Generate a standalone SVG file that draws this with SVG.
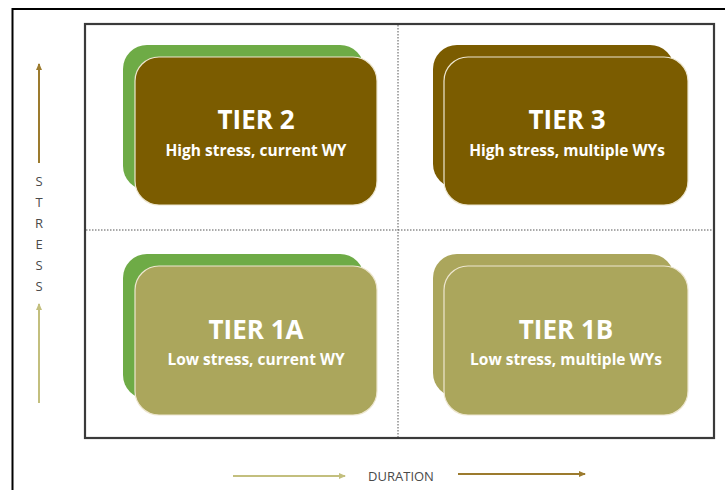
<svg xmlns="http://www.w3.org/2000/svg" width="725" height="490" viewBox="0 0 725 490">
<defs>
<style>
.title{font-family:"Open Sans","Liberation Sans",sans-serif;font-weight:700;font-size:26px;fill:#ffffff;text-anchor:middle}
.sub{font-family:"Open Sans","Liberation Sans",sans-serif;font-weight:700;font-size:15.5px;fill:#ffffff;text-anchor:middle}
.axis{font-family:"Open Sans","Liberation Sans",sans-serif;font-size:13px;fill:#4a4a4a;text-anchor:middle}
.dark{fill:#7B5C00}
.light{fill:#ABA65C}
.green{fill:#6EAB46}
.front{stroke:#EDE6CF;stroke-width:1.2}
.div{stroke:#555555;stroke-width:1;stroke-dasharray:1.5 1.5;fill:none}
</style>
<marker id="ahD" markerWidth="8" markerHeight="8" refX="6" refY="4" orient="auto" markerUnits="userSpaceOnUse"><path d="M0,1 L7,4 L0,7 Z" fill="#9C7B2E"/></marker>
<marker id="ahL" markerWidth="8" markerHeight="8" refX="6" refY="4" orient="auto" markerUnits="userSpaceOnUse"><path d="M0,1 L7,4 L0,7 Z" fill="#C3BF7E"/></marker>
</defs>
<rect width="725" height="490" fill="#ffffff"/>
<path d="M12.5,495 V9 H730" fill="none" stroke="#000000" stroke-width="2"/>
<rect x="85" y="24" width="629" height="414" fill="none" stroke="#3a3a3a" stroke-width="2.2"/>
<g id="dividers">
<line class="div" x1="398" y1="25" x2="398" y2="437"/>
<line class="div" x1="86" y1="230" x2="713" y2="230"/>
</g>
<g id="tier2">
<rect class="green" x="123" y="45" width="241" height="145" rx="24"/>
<rect class="dark front" x="135" y="57" width="242" height="148" rx="24"/>
<text class="title" x="256" y="129">TIER 2</text>
<text class="sub" x="256" y="156">High stress, current WY</text>
</g>
<g id="tier3">
<rect class="dark" x="433" y="45" width="241" height="143" rx="24"/>
<rect class="dark front" x="444" y="57" width="244" height="148" rx="24"/>
<text class="title" x="567" y="129">TIER 3</text>
<text class="sub" x="567" y="156">High stress, multiple WYs</text>
</g>
<g id="tier1a">
<rect class="green" x="123" y="254" width="241" height="145" rx="24"/>
<rect class="light front" x="135" y="266" width="242" height="149" rx="24"/>
<text class="title" x="256" y="339">TIER 1A</text>
<text class="sub" x="256" y="365">Low stress, current WY</text>
</g>
<g id="tier1b">
<rect class="light" x="433" y="254" width="241" height="143" rx="24"/>
<rect class="light front" x="444" y="266" width="244" height="149" rx="24"/>
<text class="title" x="566" y="339">TIER 1B</text>
<text class="sub" x="566" y="365">Low stress, multiple WYs</text>
</g>
<g id="connectors">
<line x1="39" y1="163" x2="39" y2="64" stroke="#9C7B2E" stroke-width="2" marker-end="url(#ahD)"/>
<line x1="39" y1="403" x2="39" y2="304" stroke="#C3BF7E" stroke-width="2" marker-end="url(#ahL)"/>
<line x1="233" y1="476" x2="345" y2="476" stroke="#C3BF7E" stroke-width="2" marker-end="url(#ahL)"/>
<line x1="458" y1="474" x2="585" y2="474" stroke="#9C7B2E" stroke-width="2" marker-end="url(#ahD)"/>
</g>
<g id="stress-label">
<text class="axis" x="39" y="186">S</text>
<text class="axis" x="39" y="207">T</text>
<text class="axis" x="39" y="228">R</text>
<text class="axis" x="39" y="249">E</text>
<text class="axis" x="39" y="270">S</text>
<text class="axis" x="39" y="291">S</text>
</g>
<g id="duration-label">
<text class="axis" x="401" y="481">DURATION</text>
</g>
</svg>
